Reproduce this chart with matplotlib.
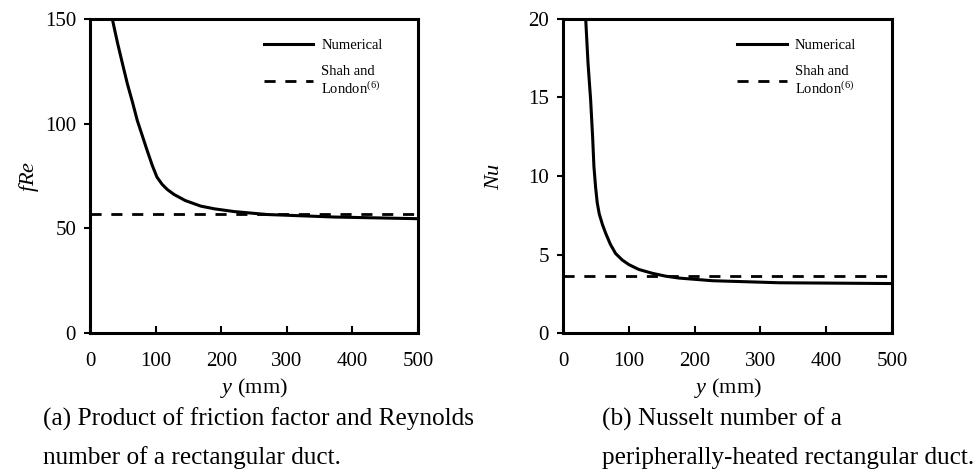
import matplotlib
matplotlib.use("Agg")
import matplotlib.pyplot as plt

plt.rcParams['font.family'] = 'Liberation Serif'
plt.rcParams['mathtext.fontset'] = 'custom'
plt.rcParams['mathtext.rm'] = 'Liberation Serif'
plt.rcParams['mathtext.it'] = 'Liberation Serif:italic'

# (a) fRe along the duct
y_fre = [30, 34, 42, 50, 57, 65, 72, 80, 87, 95, 102, 110, 118, 128, 145, 169, 190, 220, 270, 372, 500]
fre_num = [158, 150, 138.5, 128, 119, 110, 101.6, 94, 87.3, 80, 74.5, 71, 68.5, 66.2, 63.3, 60.6, 59.3, 58.0, 56.6, 55.4, 54.6]
fre_shah = 57.0

# (b) Nu along the duct
y_nu = [33, 34.5, 38, 42, 45, 47, 49.5, 52, 55, 60, 65, 72, 80, 90, 100, 115, 136, 156, 176, 227, 329, 500]
nu_num = [21, 20, 17.2, 14.85, 12.5, 10.6, 9.3, 8.3, 7.6, 6.9, 6.34, 5.65, 5.06, 4.65, 4.36, 4.05, 3.8, 3.62, 3.5, 3.33, 3.2, 3.15]
nu_shah = 3.61

fig = plt.figure(figsize=(9.78, 4.72), dpi=100)
ax1 = fig.add_axes([90/978, 139/472, 328/978, 314/472])
ax2 = fig.add_axes([563/978, 139/472, 329/978, 314/472])


def setup(ax, ylim, yticks, ylabel, lab_x):
    ax.set_xlim(0, 500)
    ax.set_ylim(*ylim)
    ax.set_xticks([0, 100, 200, 300, 400, 500])
    ax.set_yticks(yticks)
    for s in ax.spines.values():
        s.set_linewidth(2.2)
    ax.tick_params(axis='x', direction='in', length=5, width=1.5, pad=14, labelsize=15)
    ax.tick_params(axis='y', direction='out', length=4, width=1.5, pad=6, labelsize=15)
    ax.set_xlabel(r'$y$ (mm)', fontsize=16, labelpad=3)
    ax.set_ylabel(ylabel, fontsize=16)
    ax.yaxis.set_label_coords(lab_x, 0.5)


ax1.plot(y_fre, fre_num, color='black', lw=2.2, label='Numerical')
ax1.axhline(fre_shah, color='black', lw=2.0, dashes=(4, 3.5), label='Shah and\nLondon$^{(6)}$')
setup(ax1, (0, 150), [0, 50, 100, 150], r'$fRe$', -0.148)

ax2.plot(y_nu, nu_num, color='black', lw=2.2, label='Numerical')
ax2.axhline(nu_shah, color='black', lw=2.0, dashes=(4, 3.5), label='Shah and\nLondon$^{(6)}$')
setup(ax2, (0, 20), [0, 5, 10, 15, 20], r'$Nu$', -0.178)

for ax in (ax1, ax2):
    ax.legend(loc='upper left', bbox_to_anchor=(0.53, 0.936), frameon=False,
              fontsize=10.5, handlelength=3.4, handletextpad=0.55,
              borderpad=0, borderaxespad=0, labelspacing=0.85)

fig.text(43/978, 53/472, '(a) Product of friction factor and Reynolds', fontsize=18.2, va='center')
fig.text(43/978, 14/472, 'number of a rectangular duct.', fontsize=18.2, va='center')
fig.text(602/978, 53/472, '(b) Nusselt number of a', fontsize=18.2, va='center')
fig.text(602/978, 14/472, 'peripherally-heated rectangular duct.', fontsize=18.2, va='center')

fig.savefig('out.png', dpi=100)
